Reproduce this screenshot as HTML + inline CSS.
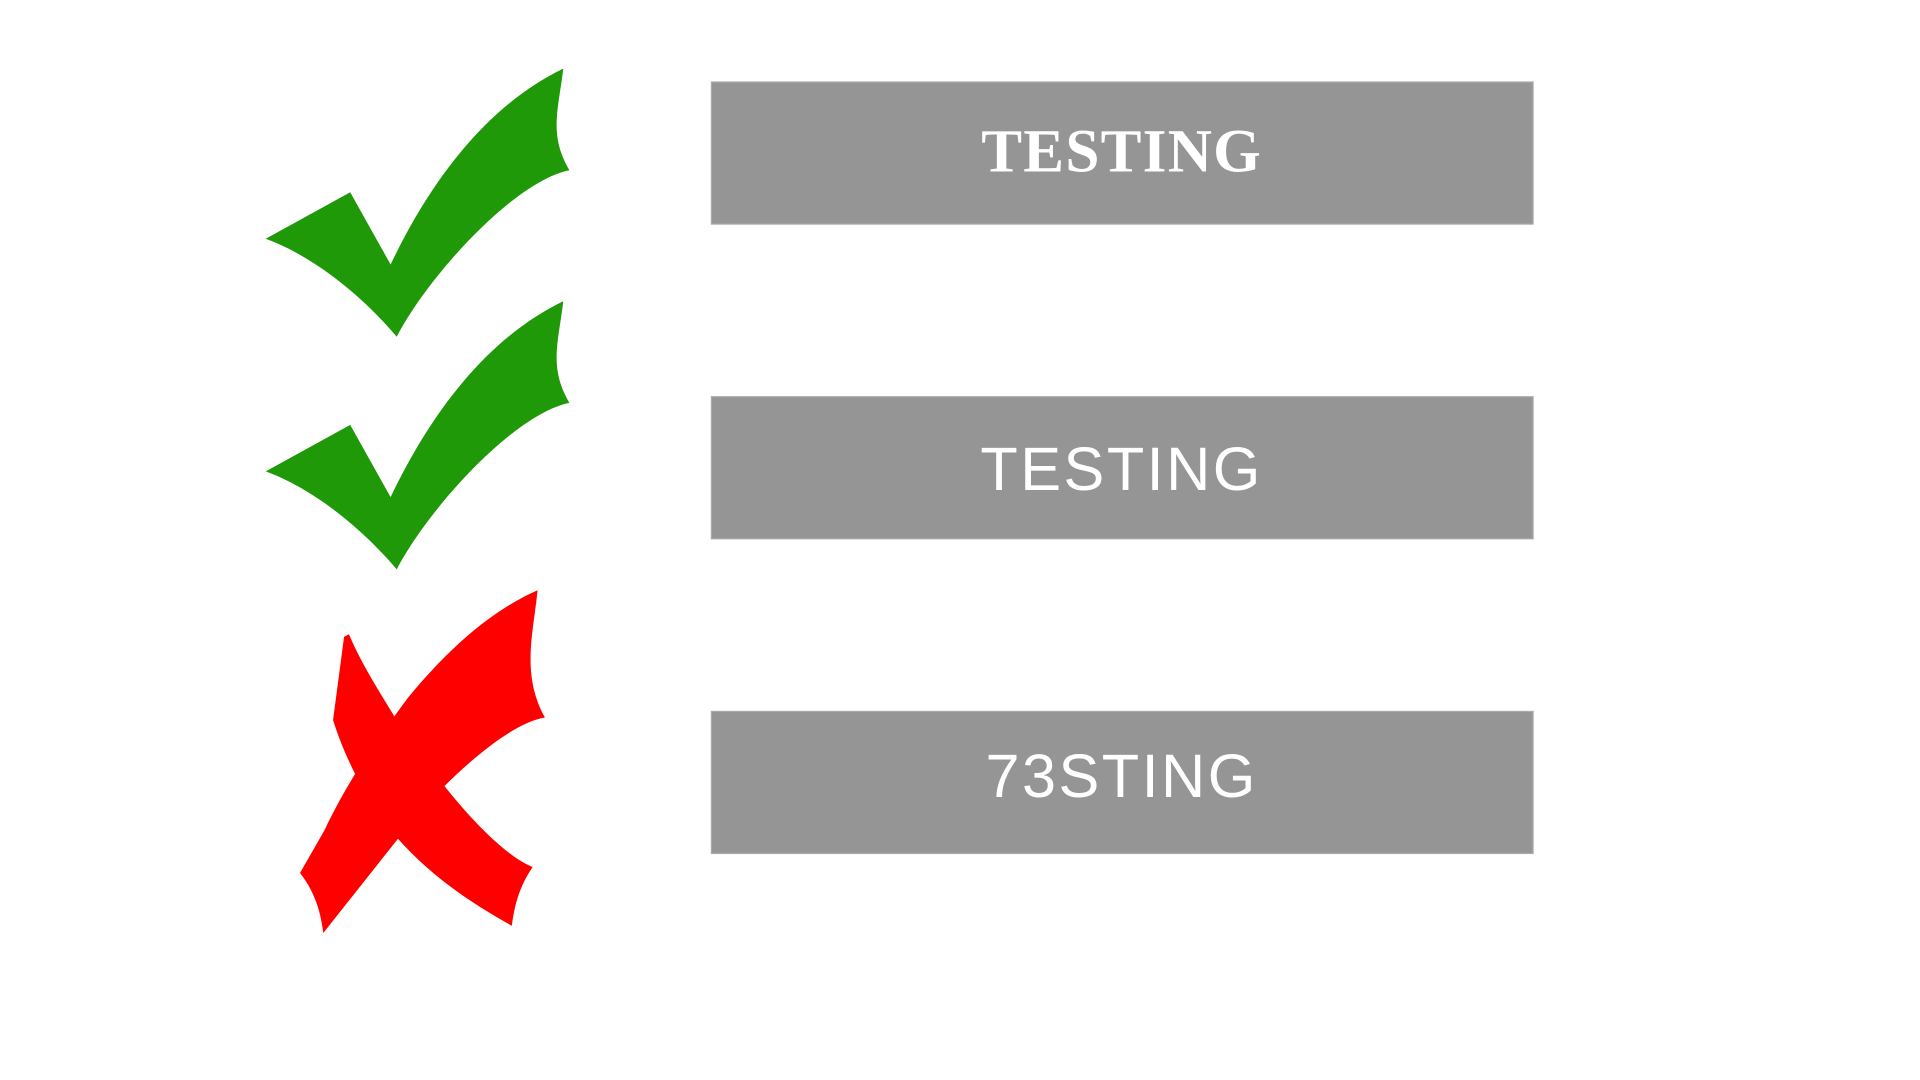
<!DOCTYPE html>
<html>
<head>
<meta charset="utf-8">
<style>
html,body{margin:0;padding:0;background:#fff;width:1920px;height:1080px;overflow:hidden;}
svg{display:block;}
</style>
</head>
<body>
<svg width="1920" height="1080" viewBox="0 0 1568 882" preserveAspectRatio="none">
  <path fill="#1f9908"
    d="M217,195 L286,157 L319,216 C360,130 410,80 460,56 C456,90 448,110 465,139 C420,148 350,225 324,275 C290,235 250,207 217,195 Z"/>
  <path fill="#1f9908"
    d="M217,385 L286,347 L319,406 C360,320 410,270 460,246 C456,280 448,300 465,329 C420,338 350,415 324,465 C290,425 250,397 217,385 Z"/>
  <path fill="#ff0000"
    d="M285,518 C295,542 310,565 322,585 L333,570 C370,525 405,497 439,482 C436,515 425,550 445,586 C420,590 385,620 363,642 C390,676 418,702 435,708 C424,724 420,740 418,756 C380,735 350,713 325,685 L264,762 C262,745 257,728 245,713 L265,678 C273,661 281,647 290,632 C283,618 277,604 272,588 L281,520 Z"/>

  <g>
    <rect x="581" y="67" width="671" height="116" fill="#959595" stroke="#aaa" stroke-width="1"/>
    <text x="916" y="140" text-anchor="middle" font-family="Liberation Serif, serif" font-weight="bold" font-size="50" fill="#fff" letter-spacing="1">TESTING</text>
  </g>
  <g>
    <rect x="581" y="324" width="671" height="116" fill="#959595" stroke="#aaa" stroke-width="1"/>
    <text x="916" y="400" text-anchor="middle" font-family="Liberation Sans, sans-serif" font-size="50" fill="#fff" letter-spacing="2">TESTING</text>
  </g>
  <g>
    <rect x="581" y="581" width="671" height="116" fill="#959595" stroke="#aaa" stroke-width="1"/>
    <text x="916" y="651" text-anchor="middle" font-family="Liberation Sans, sans-serif" font-size="50" fill="#fff" letter-spacing="2">73STING</text>
  </g>
</svg>
</body>
</html>
